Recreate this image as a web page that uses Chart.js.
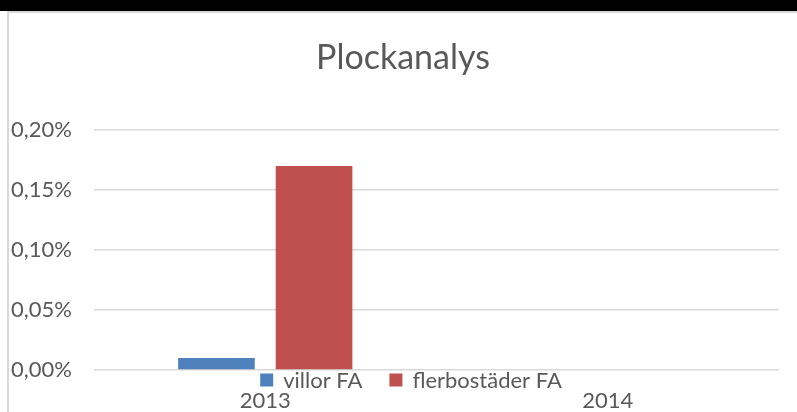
<!DOCTYPE html>
<html>
<head>
<meta charset="utf-8">
<script src="https://cdn.jsdelivr.net/npm/chart.js@4.4.1/dist/chart.umd.min.js"></script>
<style>
    html, body { margin: 0; padding: 0; background: #fff; }
    #band { position: absolute; left: 0; top: 0; width: 797px; height: 11px; background: #000; }
    #box {
        position: absolute; left: 7px; top: 11px;
        width: 788px; height: 399px;
        border-top: 2px solid #d9d9d9;
        border-left: 2px solid #d9d9d9;
    }
</style>
</head>
<body>
<div id="band"></div>
<div id="box"><canvas id="chart"></canvas></div>
<script>
    // Data (percent values)
    const years = ["2013", "2014"];
    const villorFA = [0.01, 0];
    const flerbostaderFA = [0.17, 0];
    const seriesNames = ["villor FA", "flerbostäder FA"];

    const textColor = "#595959";
    const fontFamily = "Lato, 'Open Sans', sans-serif";

    const formatPct = (v) => v.toFixed(2).replace(".", ",") + "%";

    // Excel style legend, sitting between the axis line and the category labels
    const legendBetween = {
        id: "legendBetween",
        afterDraw(chart) {
            const ctx = chart.ctx;
            const size = 13, gap = 10, itemGap = 27;
            ctx.save();
            ctx.font = "22px " + fontFamily;
            ctx.textBaseline = "middle";
            const items = chart.data.datasets.map((ds) => ({
                label: ds.label,
                color: ds.backgroundColor,
                w: size + gap + ctx.measureText(ds.label).width
            }));
            const total = items.reduce((s, it) => s + it.w, 0) + itemGap * (items.length - 1);
            let x = 402 - total / 2;
            const y = chart.chartArea.bottom + 10;
            items.forEach((it) => {
                ctx.fillStyle = it.color;
                ctx.fillRect(x, y - size / 2, size, size);
                ctx.fillStyle = textColor;
                ctx.fillText(it.label, x + size + gap, y + 1);
                x += it.w + itemGap;
            });
            ctx.restore();
        }
    };

    const ctx = document.getElementById("chart").getContext("2d");
    new Chart(ctx, {
        type: "bar",
        data: {
            labels: years,
            datasets: [
                {
                    label: seriesNames[0],
                    data: villorFA,
                    backgroundColor: "#4f81bd",
                    categoryPercentage: 0.57,
                    barPercentage: 0.785
                },
                {
                    label: seriesNames[1],
                    data: flerbostaderFA,
                    backgroundColor: "#c0504d",
                    categoryPercentage: 0.57,
                    barPercentage: 0.785
                }
            ]
        },
        options: {
            responsive: true,
            maintainAspectRatio: false,
            animation: false,
            layout: {
                padding: 0
            },
            plugins: {
                legend: { display: false },
                tooltip: { enabled: false },
                title: {
                    display: true,
                    text: "Plockanalys",
                    color: textColor,
                    font: { family: fontFamily, size: 34, weight: "normal", lineHeight: 1.2 },
                    padding: { top: 25, bottom: 51.2 }
                }
            },
            scales: {
                y: {
                    min: 0,
                    max: 0.2,
                    afterFit: (scale) => { scale.width = 85; },
                    ticks: {
                        stepSize: 0.05,
                        color: textColor,
                        font: { family: fontFamily, size: 22 },
                        padding: 22,
                        callback: formatPct
                    },
                    grid: {
                        color: "#d9d9d9",
                        lineWidth: 1.5,
                        drawTicks: false
                    },
                    border: { display: false }
                },
                // empty right-hand axis, only keeps a margin right of the plot
                yRight: {
                    position: "right",
                    afterFit: (scale) => { scale.width = 18; },
                    ticks: { display: false },
                    grid: { display: false, drawTicks: false },
                    border: { display: false }
                },
                x: {
                    afterFit: (scale) => { scale.height = 42; },
                    ticks: {
                        color: textColor,
                        font: { family: fontFamily, size: 22 },
                        padding: 18
                    },
                    grid: { display: false, drawTicks: false },
                    border: { display: false }
                }
            }
        },
        plugins: [legendBetween]
    });
</script>
</body>
</html>
